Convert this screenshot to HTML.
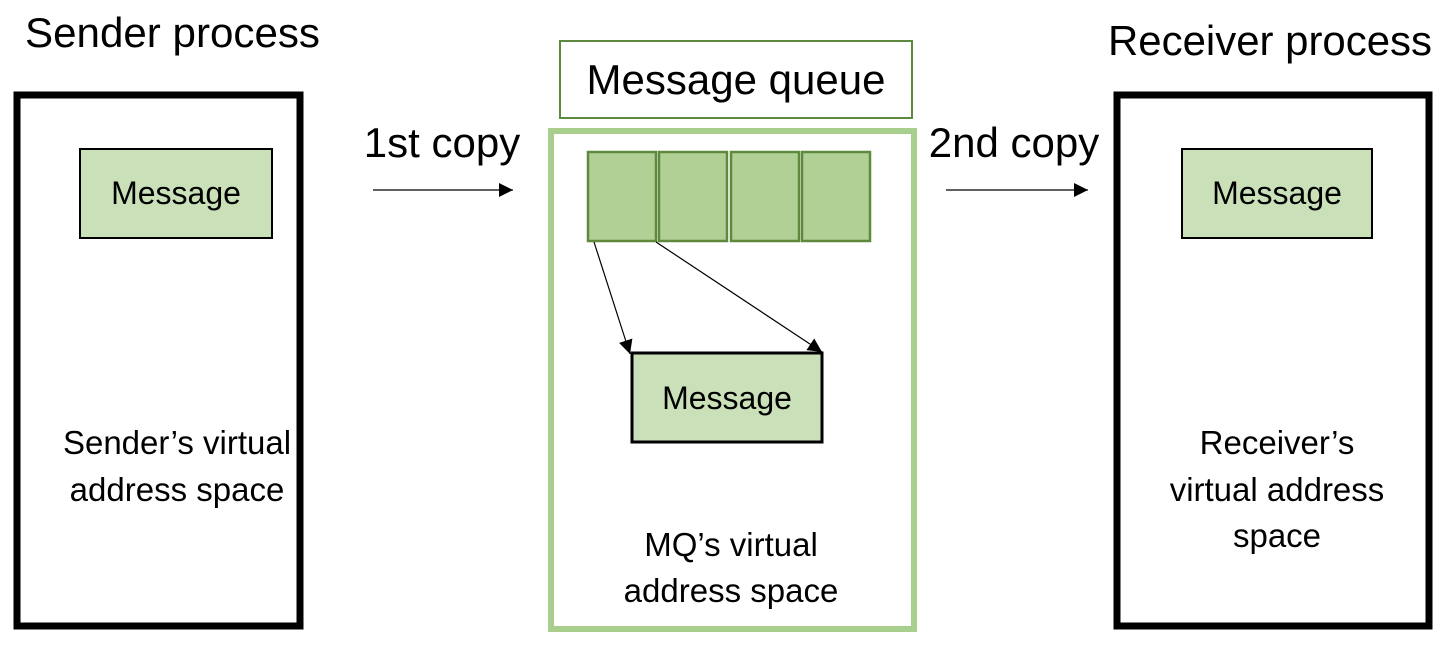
<!DOCTYPE html>
<html><head><meta charset="utf-8"><style>
body{margin:0;width:1452px;height:645px;background:#fff;overflow:hidden}
svg text{font-family:"Liberation Sans",sans-serif;fill:#000}
</style></head><body>
<svg width="1452" height="645" viewBox="0 0 1452 645">
<defs><marker id="b" viewBox="0 0 10 10" refX="10" refY="5" markerWidth="14" markerHeight="14" markerUnits="userSpaceOnUse" orient="auto"><path d="M0,0L10,5L0,10z" fill="#000"/></marker></defs>
<text x="25" y="47" font-size="42" textLength="295" lengthAdjust="spacingAndGlyphs">Sender process</text>
<text x="1108" y="55" font-size="42" textLength="324" lengthAdjust="spacingAndGlyphs">Receiver process</text>
<rect x="17" y="95" width="283" height="531" fill="none" stroke="#000" stroke-width="7"/>
<rect x="1117" y="95" width="312" height="531" fill="none" stroke="#000" stroke-width="7"/>
<rect x="80" y="149" width="192" height="89" fill="#c9e0b8" stroke="#000" stroke-width="2"/>
<rect x="1182" y="149" width="190" height="89" fill="#c9e0b8" stroke="#000" stroke-width="2"/>
<text x="176" y="204" font-size="32" text-anchor="middle">Message</text>
<text x="1277" y="204" font-size="32" text-anchor="middle">Message</text>
<text x="442" y="157" font-size="42" text-anchor="middle">1st copy</text>
<text x="1014" y="157" font-size="42" text-anchor="middle">2nd copy</text>
<line x1="373" y1="190" x2="513" y2="190" stroke="#000" stroke-width="1.3" marker-end="url(#b)"/>
<line x1="946" y1="190" x2="1088" y2="190" stroke="#000" stroke-width="1.3" marker-end="url(#b)"/>
<rect x="560" y="41" width="352" height="77" fill="#fff" stroke="#5f8a3e" stroke-width="2"/>
<text x="736" y="94" font-size="42" text-anchor="middle">Message queue</text>
<rect x="551" y="131" width="363" height="498" fill="none" stroke="#a9cf8e" stroke-width="6"/>
<g fill="#b1d095" stroke="#5f8a3e" stroke-width="2.5">
<rect x="588" y="152" width="68" height="89"/><rect x="659" y="152" width="68" height="89"/>
<rect x="731" y="152" width="68" height="89"/><rect x="802" y="152" width="68" height="89"/></g>
<line x1="594" y1="242" x2="630" y2="354" stroke="#000" stroke-width="1.2" marker-end="url(#b)"/>
<line x1="656" y1="242" x2="822" y2="352" stroke="#000" stroke-width="1.2" marker-end="url(#b)"/>
<rect x="632" y="353" width="190" height="89" fill="#c9e0b8" stroke="#000" stroke-width="3"/>
<text x="727" y="409" font-size="32" text-anchor="middle">Message</text>
<g font-size="33" text-anchor="middle">
<text x="177" y="454">Sender’s virtual</text><text x="177" y="501">address space</text>
<text x="731" y="556">MQ’s virtual</text><text x="731" y="602">address space</text>
<text x="1277" y="454">Receiver’s</text><text x="1277" y="501">virtual address</text><text x="1277" y="547">space</text>
</g>
</svg>
</body></html>
